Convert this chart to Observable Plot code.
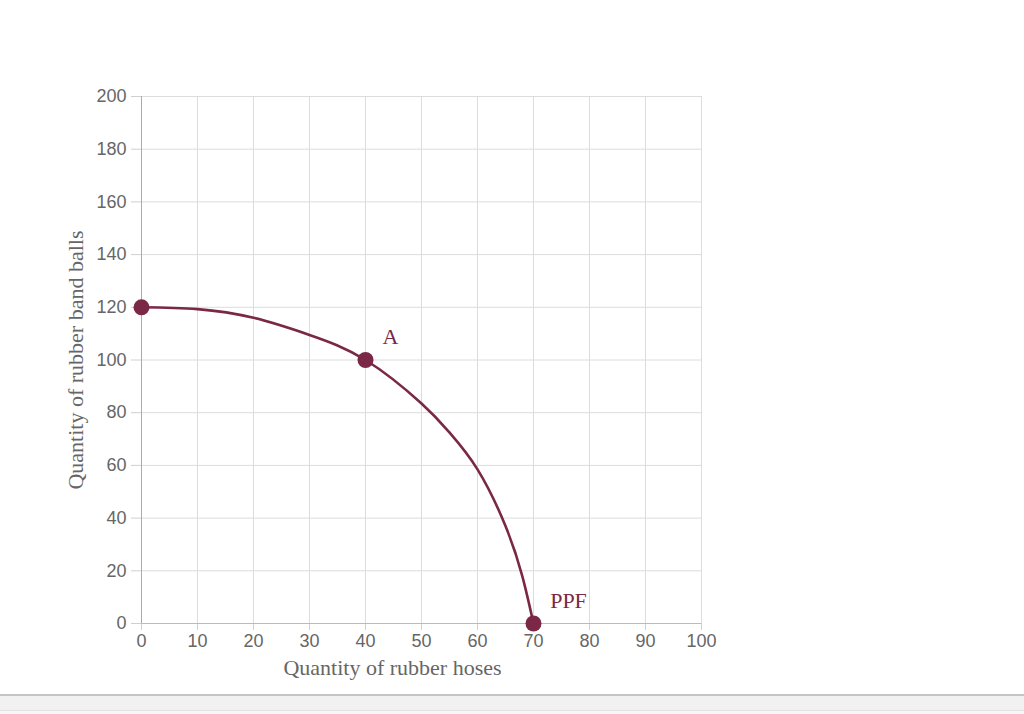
<!DOCTYPE html>
<html>
<head>
<meta charset="utf-8">
<script src="https://cdn.jsdelivr.net/npm/d3@7"></script>
<script src="https://cdn.jsdelivr.net/npm/@observablehq/plot@0.6"></script>
<style>
  html, body { margin: 0; padding: 0; background: #fff; width: 1024px; height: 714px; overflow: hidden; }
  #chart { position: absolute; left: 0; top: 0; }
  #bar { position: absolute; left: 0; top: 694px; width: 1024px; height: 20px; background: #f1f1f1; border-top: 2px solid #c4c4c4; box-sizing: border-box; }
  #bar div { position: absolute; left: 0; top: 14px; width: 1024px; height: 4px; background: #f6f6f6; border-top: 1px solid #e2e2e2; }
</style>
</head>
<body>
<div id="chart"></div>
<div id="bar"><div></div></div>
<script>
// PPF curve
const curveX = [0, 10, 20, 30, 40, 50, 55, 60, 65, 68, 70];
const curveY = [120, 119.3, 116, 109.5, 100, 83.5, 72.5, 58.5, 37, 18, 0];
// highlighted points
const pointX = [0, 40, 70];
const pointY = [120, 100, 0];
// annotations
const labelText = ["A", "PPF"];
const labelX = [40, 70];
const labelY = [100, 0];
// ticks
const xTicks = [0, 10, 20, 30, 40, 50, 60, 70, 80, 90, 100];
const yTicks = [0, 20, 40, 60, 80, 100, 120, 140, 160, 180, 200];
const xTitle = "Quantity of rubber hoses";
const yTitle = "Quantity of rubber band balls";

const color = "#7a2846";
const curve = curveX.map((x, i) => ({x, y: curveY[i]}));
const points = pointX.map((x, i) => ({x, y: pointY[i]}));
const labels = labelText.map((t, i) => ({t, x: labelX[i], y: labelY[i]}));
const serif = "'Liberation Serif', 'DejaVu Serif', serif";

const chart = Plot.plot({
  width: 1024,
  height: 694,
  marginLeft: 141,
  marginRight: 323,
  marginTop: 96,
  marginBottom: 71,
  style: {fontFamily: "'Liberation Sans', Arial, sans-serif", fontSize: "18px", color: "#666", background: "#fff"},
  x: {domain: [0, 100]},
  y: {domain: [0, 200]},
  marks: [
    Plot.gridX(xTicks, {stroke: "#dcdcdc", strokeOpacity: 1}),
    Plot.gridY(yTicks, {stroke: "#dcdcdc", strokeOpacity: 1}),
    Plot.axisX(xTicks, {tickSize: 7, tickPadding: 4, stroke: "#d0d0d0", fill: "#666", label: null, fontSize: 18}),
    Plot.axisY(yTicks, {tickSize: 10, tickPadding: 5, stroke: "#d0d0d0", fill: "#666", label: null, fontSize: 18}),
    Plot.ruleX([0], {stroke: "#aaa"}),
    Plot.ruleY([0], {stroke: "#bbb"}),
    Plot.line(curve, {x: "x", y: "y", stroke: color, strokeWidth: 2.6, curve: "natural"}),
    Plot.dot(points, {x: "x", y: "y", r: 8, fill: color}),
    Plot.text(labels, {x: "x", y: "y", text: "t", dx: 25, dy: -23, fill: color, fontSize: 22, fontFamily: serif, filter: d => d.t === "A"}),
    Plot.text(labels, {x: "x", y: "y", text: "t", dx: 35, dy: -23, fill: color, fontSize: 22, fontFamily: serif, filter: d => d.t === "PPF"}),
    Plot.text([xTitle], {frameAnchor: "bottom", dx: -29, dy: 51, fill: "#666", fontSize: 22, fontFamily: serif}),
    Plot.text([yTitle], {frameAnchor: "left", textAnchor: "middle", dx: -66, rotate: -90, fill: "#666", fontSize: 22, fontFamily: serif})
  ]
});
document.getElementById("chart").appendChild(chart);
</script>
</body>
</html>
